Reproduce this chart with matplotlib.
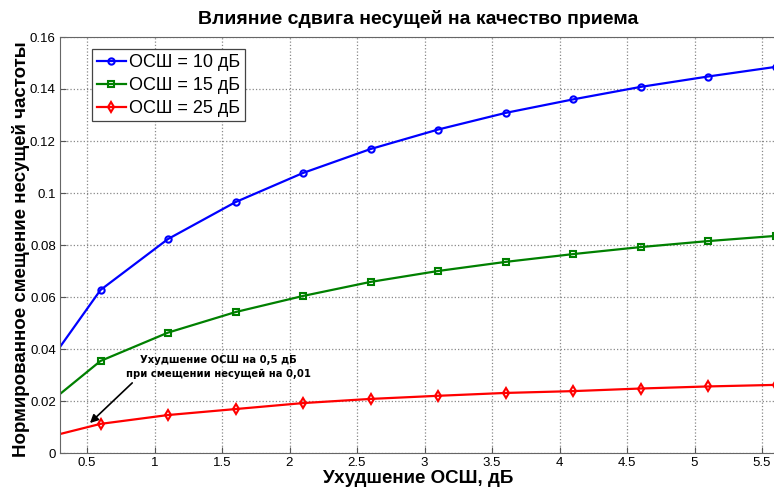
import numpy as np
from matplotlib import pyplot as plt
from matplotlib import font_manager

# degradation of SNR, dB (line start at the left edge, then marker points)
snr_loss = [0.3, 0.6, 1.1, 1.6, 2.1, 2.6, 3.1, 3.6, 4.1, 4.6, 5.1, 5.6]

# normalized carrier offset for each SNR
offset_10db = [0.0408, 0.0627, 0.0823, 0.0965, 0.1077, 0.1169, 0.1244,
               0.1308, 0.1360, 0.1408, 0.1448, 0.1485]
offset_15db = [0.0227, 0.0354, 0.0463, 0.0542, 0.0604, 0.0658, 0.0700,
               0.0735, 0.0765, 0.0792, 0.0815, 0.0835]
offset_25db = [0.0073, 0.0112, 0.0146, 0.0169, 0.0192, 0.0208, 0.0220,
               0.0231, 0.0238, 0.0248, 0.0256, 0.0262]

series = [
    ("ОСШ = 10 дБ", offset_10db, "#0000ff", "o", 4.5),
    ("ОСШ = 15 дБ", offset_15db, "#008000", "s", 4.5),
    ("ОСШ = 25 дБ", offset_25db, "#ff0000", "d", 5.5),
]

plt.rcParams['font.family'] = ['Liberation Sans', 'DejaVu Sans']

# narrow bold face for the callout, if one is around
names = {f.name for f in font_manager.fontManager.ttflist}
if 'Liberation Sans Narrow' in names:
    note_font = dict(family=['Liberation Sans Narrow', 'DejaVu Sans'])
else:
    note_font = dict(family=['DejaVu Sans'], stretch='condensed')

fig = plt.figure(figsize=(7.74, 4.88), dpi=100)
ax = fig.add_axes([60 / 774, 1 - 453 / 488, 715.5 / 774, 416 / 488])

for label, ys, color, marker, ms in series:
    ax.plot(snr_loss, ys, '-', color=color, lw=1.6, label=label,
            marker=marker, markevery=list(range(1, len(snr_loss))),
            markersize=ms, markerfacecolor='none', markeredgewidth=1.5)

ax.set_xlim(0.3, 5.6)
ax.set_ylim(0, 0.16)
ax.set_xticks([0.5, 1, 1.5, 2, 2.5, 3, 3.5, 4, 4.5, 5, 5.5])
ax.set_xticklabels(['0.5', '1', '1.5', '2', '2.5', '3', '3.5', '4', '4.5', '5', '5.5'])
ax.set_yticks([0, 0.02, 0.04, 0.06, 0.08, 0.1, 0.12, 0.14, 0.16])
ax.set_yticklabels(['0', '0.02', '0.04', '0.06', '0.08', '0.1', '0.12', '0.14', '0.16'])
ax.tick_params(labelsize=9.5, direction='in', length=4, color='#555555', pad=3)
ax.grid(True, linestyle=':', color='#888888', lw=0.9)
for sp in ax.spines.values():
    sp.set_color('#666666')

ax.set_title("Влияние сдвига несущей на качество приема",
             fontsize=14, fontweight='bold', pad=9)
ax.set_xlabel("Ухудшение ОСШ, дБ", fontsize=13.5, fontweight='bold')
ax.xaxis.set_label_coords(0.5, -0.041)
ax.set_ylabel("Нормированное смещение несущей частоты", fontsize=13.5,
              fontweight='bold')
ax.yaxis.set_label_coords(-0.042, 0.49)

leg = ax.legend(loc='upper left', bbox_to_anchor=(0.045, 0.97), fontsize=13,
                fancybox=False, framealpha=1, edgecolor='#444444',
                handlelength=1.6, handletextpad=0.2, borderpad=0.25,
                labelspacing=0.33, borderaxespad=0)
leg.get_frame().set_linewidth(0.9)

ax.annotate("", xy=(0.507, 0.0108), xytext=(0.85, 0.0277),
            arrowprops=dict(arrowstyle='-|>', color='black', lw=1.2,
                            mutation_scale=12))
ax.text(1.47, 0.0358, "Ухудшение ОСШ на 0,5 дБ", ha='center', va='center',
        fontsize=8, fontweight='bold', **note_font)
ax.text(1.47, 0.0304, "при смещении несущей на 0,01", ha='center', va='center',
        fontsize=8, fontweight='bold', **note_font)

fig.savefig("out.png", dpi=100)
